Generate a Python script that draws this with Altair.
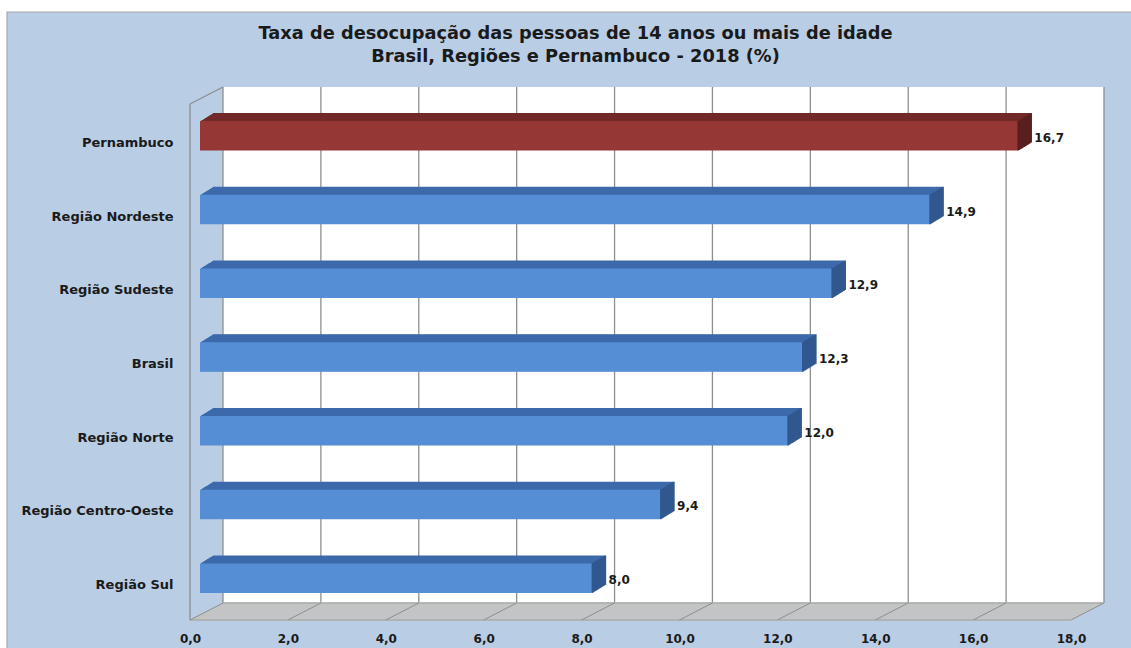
import altair as alt
import pandas as pd

# ---------------- data ----------------
categories = ["Pernambuco", "Região Nordeste", "Região Sudeste", "Brasil",
              "Região Norte", "Região Centro-Oeste", "Região Sul"]
values = [16.7, 14.9, 12.9, 12.3, 12.0, 9.4, 8.0]
highlight = ["Pernambuco"]
x_ticks = [0, 2, 4, 6, 8, 10, 12, 14, 16, 18]
x_domain = [0, 18]
title_lines = ["Taxa de desocupação das pessoas de 14 anos ou mais de idade",
               "Brasil, Regiões e Pernambuco - 2018 (%)"]

# ---------------- style ----------------
W, H = 881, 516
PAD = {"left": 190, "top": 104, "right": 60, "bottom": 28}
BG = "#B9CDE5"
GRID = "#8E8E8E"
FLOOR = "#C3C3C3"
EDGE = "#A0A0A0"
FONT = "DejaVu Sans"
WALL_DX, WALL_DY = 33, -17      # depth of the walls / floor
BAR_DX, BAR_DY = 10, -5         # bar front face position inside the depth
BAR_DEPTH_X, BAR_DEPTH_Y = 13, -8
STEPS = 13
FRAME_LEFT, FRAME_TOP = 7, 12   # thin chart border near the page corner

blue = {"front": "#558ED5", "top": "#3D6AAA", "side": "#31588F"}
red = {"front": "#953735", "top": "#722A28", "side": "#5A201F"}

df = pd.DataFrame({"cat": categories, "val": values})
for part in ["front", "top", "side"]:
    df[part] = [(red if c in highlight else blue)[part] for c in categories]
df["label"] = [f"{v:.1f}".replace(".", ",") for v in values]
ticks = pd.DataFrame({"t": x_ticks})
span = pd.DataFrame({"a": [x_domain[0]], "b": [x_domain[1]]})

xs = alt.Scale(domain=x_domain, nice=False, zero=True)
ys = alt.Scale(domain=categories, paddingInner=0.6, paddingOuter=0.3)

x_axis = alt.Axis(
    values=x_ticks, title=None, domain=False, ticks=False, grid=False,
    labelExpr="replace(format(datum.value, '.1f'), '.', ',')",
    labelFont=FONT, labelFontSize=12, labelFontWeight="bold", labelColor="#1A1A1A",
    labelPadding=13, labelFlush=False, labelOverlap=False, zindex=1)
y_axis = alt.Axis(
    title=None, domain=False, ticks=False, grid=False,
    labelFont=FONT, labelFontSize=13, labelFontWeight="bold", labelColor="#1A1A1A",
    labelPadding=17, labelOffset=2, labelLimit=300, zindex=1)


def X(field):
    return alt.X(field, scale=xs, axis=x_axis, title=None)


def Y():
    return alt.Y("cat:N", scale=ys, sort=categories, axis=y_axis, title=None)


layers = []

# chart frame: blue area with a thin grey border, white margin above/left
layers.append(alt.Chart(span).mark_rect(fill=BG, stroke="#A6A6A6", strokeWidth=1.2).encode(
    x=alt.value(FRAME_LEFT - PAD["left"]), x2=alt.value(W + PAD["right"] + 10),
    y=alt.value(FRAME_TOP - PAD["top"]), y2=alt.value(H + PAD["bottom"] + 10)))

# back wall
layers.append(alt.Chart(span).mark_rect(fill="white", xOffset=WALL_DX, x2Offset=WALL_DX).encode(
    x=X("a:Q"), x2="b:Q", y=alt.value(WALL_DY), y2=alt.value(H + WALL_DY)))

# gridlines on back wall
layers.append(alt.Chart(ticks).mark_rule(color=GRID, strokeWidth=1.3, xOffset=WALL_DX).encode(
    x=X("t:Q"), y=alt.value(WALL_DY), y2=alt.value(H + WALL_DY)))

# floor fill
for k in range(0, -WALL_DY + 1):
    off = k * WALL_DX / (-WALL_DY)
    layers.append(alt.Chart(span).mark_rule(color=FLOOR, strokeWidth=1.6,
                                            xOffset=off, x2Offset=off).encode(
        x=X("a:Q"), x2="b:Q", y=alt.value(H - k)))

# floor edges
layers.append(alt.Chart(span).mark_rule(color=EDGE, strokeWidth=1.2).encode(
    x=X("a:Q"), x2="b:Q", y=alt.value(H)))
layers.append(alt.Chart(span).mark_rule(color=EDGE, strokeWidth=1,
                                        xOffset=WALL_DX, x2Offset=WALL_DX).encode(
    x=X("a:Q"), x2="b:Q", y=alt.value(H + WALL_DY)))
# floor diagonals at each tick
layers.append(alt.Chart(ticks).mark_rule(color=GRID, strokeWidth=1, x2Offset=WALL_DX).encode(
    x=X("t:Q"), x2="t:Q", y=alt.value(H), y2=alt.value(H + WALL_DY)))

# left wall edges
layers.append(alt.Chart(span).mark_rule(color=GRID, strokeWidth=1.3).encode(
    x=X("a:Q"), y=alt.value(0), y2=alt.value(H)))
layers.append(alt.Chart(span).mark_rule(color=GRID, strokeWidth=1.3, x2Offset=WALL_DX).encode(
    x=X("a:Q"), x2="a:Q", y=alt.value(0), y2=alt.value(WALL_DY)))

# bar extrusion: top faces
for j in range(STEPS, 0, -1):
    ox = BAR_DX + BAR_DEPTH_X * j / STEPS
    oy = BAR_DY + BAR_DEPTH_Y * j / STEPS
    layers.append(alt.Chart(df).mark_bar(xOffset=ox, x2Offset=ox, yOffset=oy, y2Offset=oy).encode(
        x=X("val:Q"), y=Y(), color=alt.Color("top:N", scale=None)))
# bar extrusion: side faces
for j in range(0, STEPS + 1):
    ox = BAR_DX + BAR_DEPTH_X * j / STEPS
    oy = BAR_DY + BAR_DEPTH_Y * j / STEPS
    layers.append(alt.Chart(df).mark_bar(xOffset=ox - 0.2, x2Offset=ox + 1.6,
                                         yOffset=oy, y2Offset=oy).encode(
        x=X("val:Q"), x2="val:Q", y=Y(), color=alt.Color("side:N", scale=None)))

# bar front faces
layers.append(alt.Chart(df).mark_bar(xOffset=BAR_DX, x2Offset=BAR_DX,
                                     yOffset=BAR_DY, y2Offset=BAR_DY).encode(
    x=X("val:Q"), y=Y(), color=alt.Color("front:N", scale=None)))

# value labels
layers.append(alt.Chart(df).mark_text(align="left", baseline="middle", dx=27, dy=-3,
                                      font=FONT, fontSize=12, fontWeight="bold",
                                      color="#1A1A1A").encode(
    x=X("val:Q"), y=Y(), text="label:N"))

# title is placed relative to the top of the frame rect
title_offset = 21 - ((PAD["top"] - FRAME_TOP) + WALL_DY)

chart = alt.layer(*layers).properties(
    width=W, height=H,
    padding=PAD,
    autosize=alt.AutoSizeParams(type="none"),
    background="white",
    title=alt.TitleParams(text=title_lines, font=FONT, fontSize=17.8, fontWeight="bold",
                          color="#1A1A1A", anchor="middle", frame="group",
                          dx=-55, offset=title_offset, lineHeight=23, zindex=1),
).configure_view(stroke=None)

chart.save("out.html", embed_options={"renderer": "svg", "actions": False})
